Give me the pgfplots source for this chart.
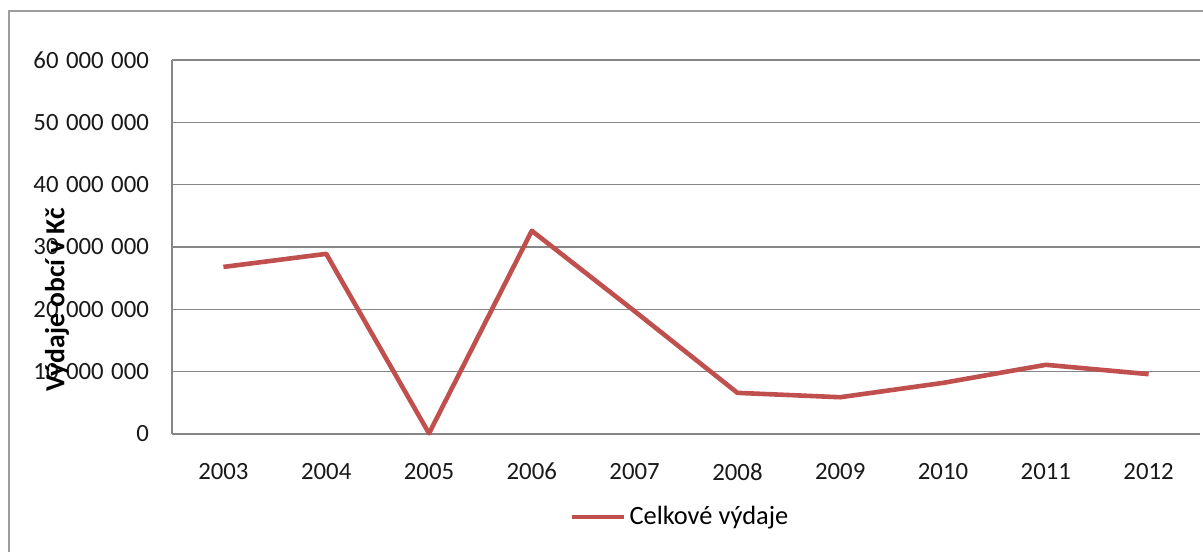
\documentclass[border=0pt]{standalone}
\usepackage{pgfplots}
\pgfplotsset{compat=1.18}
\usepackage{fontspec}
\setmainfont{Carlito}
\definecolor{exred}{HTML}{C0504D}
\definecolor{gridgray}{HTML}{868686}
\begin{document}
\begin{tikzpicture}[x=1pt,y=1pt]
\useasboundingbox (0,0) rectangle (601.5,275.5);
\begin{scope}
\clip (0,0) rectangle (601.5,275.5);
\draw[color=gridgray!80, line width=1.2pt] (4.5,-10) -- (4.5,270) -- (620,270);
\end{scope}
\begin{axis}[
  at={(86pt,58.5pt)}, anchor=south west,
  scale only axis, width=514pt, height=187pt,
  xmin=-0.5, xmax=9.5, ymin=0, ymax=60000000,
  xtick={0,...,9},
  xticklabels={2003,2004,2005,2006,2007,2008,2009,2010,2011,2012},
  ytick={0,10000000,20000000,30000000,40000000,50000000,60000000},
  scaled y ticks=false,
  /pgf/number format/assume math mode=true,
  /pgf/number format/fixed,
  /pgf/number format/precision=0,
  /pgf/number format/1000 sep={\hspace{0.3em}},
  font=\fontsize{12.4pt}{14pt}\selectfont,
  ticklabel style={font=\fontsize{12.4pt}{14pt}\selectfont, text=black!90},
  yticklabel style={xshift=-8pt},
  xticklabel style={yshift=-11pt},
  major tick length=0pt,
  ymajorgrids, grid style={gridgray, line width=0.6pt},
  axis x line*=bottom, axis y line*=left,
  axis line style={gridgray, line width=0.6pt, -},
  legend style={at={(0.495,-0.222)}, anchor=center, draw=none, fill=none,
    font=\fontsize{13.2pt}{15pt}\selectfont, inner sep=1pt},
  legend cell align=left,
  legend image code/.code={\draw[#1, line width=2pt] (0pt,0pt) -- (26pt,0pt);},
  clip=false,
]
\addplot[exred, line width=2.3pt, line join=round] coordinates {
  (0,26800000) (1,28900000) (2,100000) (3,32600000) (4,19700000)
  (5,6600000) (6,5900000) (7,8200000) (8,11100000) (9,9600000)
};
\addlegendentry{Celkové výdaje}
\end{axis}
\node[rotate=90, font=\bfseries\fontsize{13.8pt}{15pt}\selectfont] at (28.5,125.5) {Výdaje obcí v Kč};
\end{tikzpicture}
\end{document}
